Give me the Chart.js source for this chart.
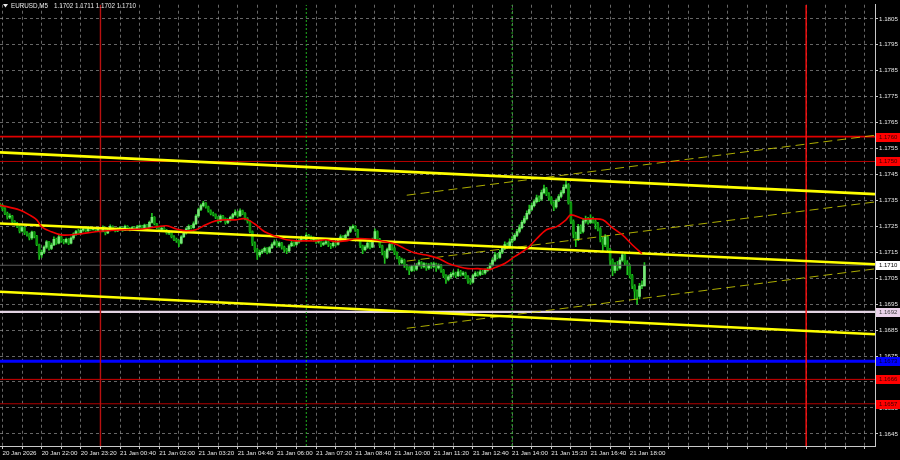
<!DOCTYPE html>
<html>
<head>
<meta charset="utf-8">
<title>EURUSD,M5</title>
<script src="https://cdn.jsdelivr.net/npm/chart.js@4.4.1/dist/chart.umd.min.js"></script>
<style>
  html, body { margin: 0; padding: 0; background: #000; }
  #wrap { width: 900px; height: 460px; }
</style>
</head>
<body>
<div id="wrap"><canvas id="chart" width="900" height="460"></canvas></div>
<script>
// candle prices are kept as points (0.00001) above 1.17000
const BASE = 1.17;
const firstOpen = 335;

const closes = [
  330,318,300,285,290,268,262,250,232,245,
  225,220,205,228,212,180,140,150,170,190,
  165,178,200,185,210,195,190,200,185,205,
  220,230,225,235,240,232,245,238,242,235,
  240,230,245,225,235,250,240,232,240,245,
  235,250,242,238,245,240,248,250,242,255,
  245,265,285,260,245,238,242,235,225,230,
  210,200,195,185,210,225,240,250,245,260,
  290,315,330,340,325,310,300,295,285,270,
  290,280,265,275,285,295,305,290,310,300,
  280,270,230,185,160,140,150,155,165,150,
  168,180,190,175,185,170,160,155,175,185,
  180,190,195,205,200,215,210,200,205,190,
  195,180,185,190,180,175,185,180,200,210,
  205,215,230,245,250,235,200,175,160,170,
  185,170,200,230,200,175,150,130,160,180,
  165,150,130,110,120,100,90,80,95,85,
  100,110,95,105,90,100,95,105,90,100,
  80,60,45,55,65,70,60,75,65,70,
  55,40,35,60,70,65,75,70,80,85,
  100,120,140,130,150,165,180,170,190,200,
  215,230,245,265,280,300,315,330,345,360,
  355,380,395,375,360,340,325,350,365,380,
  400,410,340,270,220,200,250,230,270,275,
  265,280,270,260,240,200,180,210,160,120,
  80,100,90,120,140,110,100,60,20,0,
  -20,20,20,100
];

const highs = [
  340,335,322,305,298,292,272,265,255,250,
  248,230,224,232,230,215,182,158,175,195,
  192,185,210,205,217,212,200,205,203,210,
  225,235,238,240,248,244,250,248,246,245,
  244,243,252,248,240,256,252,243,245,250,
  248,255,253,246,250,248,254,256,254,259,
  258,270,300,288,262,248,247,245,238,235,
  232,214,205,198,214,230,245,256,254,267,
  295,320,336,346,342,328,314,305,298,288,
  294,292,283,280,290,300,314,308,317,313,
  303,284,272,233,190,165,158,162,170,168,
  172,186,198,193,190,188,174,165,180,192,
  190,196,200,212,210,221,219,213,210,207,
  202,198,190,196,193,184,190,189,205,217,
  214,220,236,250,256,253,238,204,178,176,
  190,188,205,240,233,204,178,155,166,190,
  184,170,152,134,128,124,104,95,100,99,
  106,120,114,110,108,106,110,112,108,105,
  104,84,64,62,72,78,74,85,80,76,
  74,60,48,66,76,75,82,80,86,92,
  108,128,150,146,158,172,190,186,202,210,
  222,238,256,272,290,310,332,340,352,370,
  368,390,409,400,380,365,345,356,372,388,
  410,428,415,345,275,228,258,256,280,290,
  285,294,286,278,265,245,208,218,214,165,
  125,110,115,130,152,145,118,104,65,25,
  5,30,40,110
];

const lows = [
  325,310,295,278,280,262,255,245,225,228,
  218,212,198,200,205,175,122,130,145,165,
  158,160,175,180,182,188,182,185,179,182,
  200,215,220,222,230,228,230,234,235,230,
  232,225,228,217,222,232,235,228,229,236,
  230,233,238,232,235,236,237,244,237,240,
  240,243,262,255,240,232,235,229,220,218,
  205,195,188,172,182,206,220,236,240,242,
  256,285,310,325,320,305,294,290,280,262,
  266,274,258,260,270,280,290,285,288,295,
  275,262,225,175,150,122,132,145,150,144,
  147,164,176,170,170,162,150,145,152,172,
  174,176,185,192,195,197,205,195,193,184,
  185,172,175,180,172,164,170,174,177,196,
  200,202,212,226,240,230,195,168,145,155,
  165,163,168,196,195,168,140,107,125,155,
  158,141,124,100,105,92,82,64,75,78,
  80,96,88,90,80,84,88,90,76,85,
  72,52,30,40,50,58,52,56,58,60,
  48,30,26,32,56,58,60,64,66,76,
  82,96,115,124,126,145,160,165,166,185,
  195,210,225,240,260,275,296,310,325,340,
  345,350,375,368,350,335,310,320,345,360,
  375,395,335,260,205,172,195,222,225,262,
  258,260,262,240,232,190,150,172,150,100,
  60,70,80,85,115,100,64,50,10,-30,
  -50,-30,10,20
];

// moving average (red), read at these bars
const maBars = [0,8,12,15,17,21,25,29,33,39,44,51,58,64,68,72,76,80,84,88,92,96,100,104,108,113,117,121,125,129,133,137,141,145,149,153,157,161,165,169,175,179,183,187,191,195,200,202,206,210,215,219,223,227,231,233,238,242,246,250,254,258,262];
const maPts = [332,313,294,275,248,229,217,217,221,229,233,237,240,248,252,240,233,237,256,271,275,275,279,259,229,210,198,194,194,194,198,191,194,202,202,198,191,183,165,148,137,126,107,95,87,87,84,91,107,133,164,202,237,248,275,294,279,279,275,244,217,179,145];

// bottom labels, one every 16 bars starting at bar 1 (20 Jan 20:40)
const timeLabels = ['20 Jan 2026','20 Jan 22:00','20 Jan 23:20','21 Jan 00:40','21 Jan 02:00','21 Jan 03:20','21 Jan 04:40','21 Jan 06:00','21 Jan 07:20','21 Jan 08:40','21 Jan 10:00','21 Jan 11:20','21 Jan 12:40','21 Jan 14:00','21 Jan 15:20','21 Jan 16:40','21 Jan 18:00'];
const priceTicks = [1.1645,1.1655,1.1665,1.1675,1.1685,1.1695,1.1705,1.1715,1.1725,1.1735,1.1745,1.1755,1.1765,1.1775,1.1785,1.1795,1.1805];

// horizontal levels and the bid line
const levelPrices = [1.17596, 1.1750, 1.1710, 1.1692, 1.1673, 1.1666, 1.16566];
const dayBreakBars = [41, 329];     // 21 Jan 00:00, 22 Jan 00:00
const sessionBars = [125, 209];     // 21 Jan 07:00, 21 Jan 14:00

// trend lines [bar, price, bar, price]
const channelLines = [[0, 1.17535, 357.1, 1.17374], [0, 1.17261, 357.1, 1.17104], [0, 1.16998, 357.1, 1.16834]];
const rayLines = [[166, 1.17370, 357.1, 1.17601], [166, 1.17116, 357.1, 1.17344], [166, 1.16857, 357.1, 1.17086]];

const X_MIN = 0, X_MAX = 357.1;
const Y_MIN = 1.164032, Y_MAX = 1.181043;
const AXIS_FONT = { family: 'Liberation Sans', size: 6.2 };

function px(v) { return BASE + v / 100000; }

function candleData() {
  const wicks = [], bodies = [], colors = [];
  closes.forEach((c, i) => {
    const o = i === 0 ? firstOpen : closes[i - 1];
    wicks.push({ x: i, y: [px(lows[i]), px(highs[i])] });
    bodies.push({ x: i, y: [px(o), px(c)] });
    colors.push(c >= o ? '#78e878' : '#0c930c');
  });
  return { wicks, bodies, colors };
}

function segment(pts, color, width, dash, order) {
  return {
    type: 'line',
    data: [{ x: pts[0], y: pts[1] }, { x: pts[2], y: pts[3] }],
    borderColor: color,
    borderWidth: width,
    borderDash: dash || [],
    pointRadius: 0,
    fill: false,
    clip: 0,
    order: order
  };
}

function buildDatasets() {
  const cd = candleData();
  const sets = [];

  sets.push({
    type: 'bar', data: cd.wicks, backgroundColor: '#1fc41f',
    barThickness: 1, grouped: false, order: 30
  });
  sets.push({
    type: 'bar', data: cd.bodies, backgroundColor: cd.colors,
    barThickness: 2, minBarLength: 1, grouped: false, order: 29
  });

  const levelStyle = [
    ['#e00000', 1.6], ['#b80000', 1], ['#5a5a5a', 1], ['#e2d2e2', 2.2],
    ['#0000ff', 3], ['#d00000', 1], ['#b00000', 1]
  ];
  levelPrices.forEach((p, k) => {
    sets.push(segment([X_MIN, p, X_MAX, p], levelStyle[k][0], levelStyle[k][1], null, 10));
  });

  dayBreakBars.forEach((b, k) => {
    sets.push(segment([b, Y_MIN, b, Y_MAX], k === 0 ? '#b81010' : '#ff1010', 1.4, null, 9));
  });
  sessionBars.forEach(b => {
    sets.push(segment([b, Y_MIN, b, Y_MAX], '#1fb01f', 1, [2, 2], 9));
  });

  rayLines.forEach(l => sets.push(segment(l, 'rgba(215,215,0,0.8)', 1, [9, 5], 5)));
  channelLines.forEach(l => sets.push(segment(l, '#ffff00', 2.6, null, 4)));

  sets.push({
    type: 'line',
    data: maBars.map((b, k) => ({ x: b, y: px(maPts[k]) })),
    borderColor: '#f00000',
    borderWidth: 1.6,
    tension: 0.35,
    pointRadius: 0,
    fill: false,
    clip: 0,
    order: 2
  });
  return sets;
}

const boxPlugin = {
  id: 'boxes',
  afterDraw(chart) {
    const ctx = chart.ctx;
    const yScale = chart.scales.y;
    const area = chart.chartArea;
    const fills = ['#ff0000', '#ff0000', '#ffffff', '#ead2ea', '#0000ff', '#ff0000', '#ff0000'];
    const inks = ['#3a0000', '#3a0000', '#000000', '#404040', '#000030', '#3a0000', '#3a0000'];
    ctx.save();
    ctx.font = '6px "Liberation Sans"';
    ctx.textBaseline = 'middle';
    ctx.textAlign = 'left';
    levelPrices.forEach((p, k) => {
      const y = Math.round(yScale.getPixelForValue(p));
      ctx.fillStyle = fills[k];
      ctx.fillRect(area.right + 1, y - 4, 24, 9);
      ctx.fillStyle = inks[k];
      ctx.fillText(p.toFixed(4), area.right + 4, y + 0.5);
    });

    // symbol header with the last candle
    const n = closes.length;
    const ohlc = [closes[n - 2], highs[n - 1], lows[n - 1], closes[n - 1]].map(v => px(v).toFixed(4)).join(' ');
    ctx.fillStyle = '#e8e8e8';
    ctx.beginPath();
    ctx.moveTo(3, 4); ctx.lineTo(8, 4); ctx.lineTo(5.5, 7.5); ctx.closePath();
    ctx.fill();
    ctx.font = '6.3px "Liberation Sans"';
    const sym = 'EURUSD,M5';
    ctx.fillText(sym, 11, 6.5);
    ctx.fillText(ohlc, 11 + ctx.measureText(sym).width + 6, 6.5);
    ctx.restore();
  }
};

function xTickLabel(value) {
  const k = (value - 1) / 16;
  return Number.isInteger(k) && k < timeLabels.length ? timeLabels[k] : '';
}

document.addEventListener('DOMContentLoaded', () => {
  const ctx = document.getElementById('chart').getContext('2d');
  new Chart(ctx, {
    type: 'bar',
    data: { datasets: buildDatasets() },
    plugins: [boxPlugin],
    options: {
      responsive: false,
      animation: false,
      devicePixelRatio: 1,
      layout: { padding: { top: 1, left: 0, right: 0, bottom: 0 } },
      plugins: { legend: { display: false }, tooltip: { enabled: false } },
      scales: {
        x: {
          type: 'linear',
          min: X_MIN,
          max: X_MAX,
          offset: false,
          bounds: 'data',
          afterBuildTicks: s => {
            const t = [];
            for (let b = 1; b <= X_MAX; b += 8) t.push({ value: b });
            s.ticks = t;
          },
          afterFit: s => { s.height = 14; },
          grid: {
            color: 'rgba(170,170,170,0.6)', offset: false, tickLength: 3,
            tickColor: '#c8c8c8', tickBorderDash: []
          },
          border: { display: true, color: '#c8c8c8', width: 1, dash: [3, 3] },
          ticks: {
            autoSkip: false, maxRotation: 0, minRotation: 0, align: 'start',
            padding: 1, color: '#e6e6e6', font: AXIS_FONT,
            callback: v => xTickLabel(v)
          }
        },
        y: {
          type: 'linear',
          position: 'right',
          min: Y_MIN,
          max: Y_MAX,
          bounds: 'data',
          afterBuildTicks: s => { s.ticks = priceTicks.map(v => ({ value: v })); },
          afterFit: s => { s.width = 25; },
          grid: {
            color: 'rgba(170,170,170,0.6)', tickLength: 3,
            tickColor: '#c8c8c8', tickBorderDash: []
          },
          border: { display: true, color: '#c8c8c8', width: 1, dash: [3, 3] },
          ticks: {
            padding: 1, color: '#e6e6e6', font: AXIS_FONT,
            callback: v => Number(v).toFixed(4)
          }
        }
      }
    }
  });
});
</script>
</body>
</html>
